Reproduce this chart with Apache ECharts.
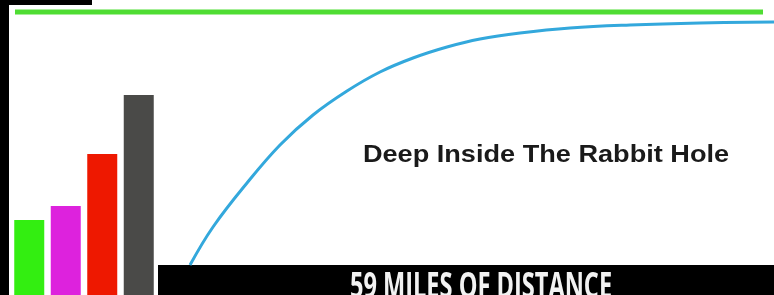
<!DOCTYPE html>
<html>
<head>
<meta charset="utf-8">
<script src="https://cdn.jsdelivr.net/npm/echarts@6/dist/echarts.min.js"></script>
<style>
  html, body { margin: 0; padding: 0; background: #fff; }
  #chart { width: 774px; height: 295px; }
</style>
</head>
<body>
<div id="chart"></div>
<script>
// bar chart on the left
const barNames = ['a', 'b', 'c', 'd']
const barValues = [75, 89, 141, 200]
const barColors = ['#33ee11', '#dd22dd', '#ee1800', '#4a4a48']

// rising curve (x = distance, y = depth)
const curveX = [0, 23, 57, 90, 123, 157, 190, 223, 257, 290, 330, 380, 440, 510, 584]
const curveY = [0, 38, 82, 120, 150, 174, 193, 207, 218, 226, 232, 237, 240, 242, 243]

const titleText = 'Deep Inside The Rabbit Hole'
const axisText = '59 MILES OF DISTANCE'

const chart = echarts.init(document.getElementById('chart'))

const option = {
  animation: false,
  backgroundColor: '#ffffff',
  grid: [
    { left: 11, width: 146, top: 0, bottom: 0 },
    { left: 190, right: 0, top: 0, bottom: 30 }
  ],
  xAxis: [
    { gridIndex: 0, type: 'category', data: barNames, show: false },
    { gridIndex: 1, type: 'value', min: 0, max: 584, show: false }
  ],
  yAxis: [
    { gridIndex: 0, type: 'value', min: 0, max: 295, show: false },
    { gridIndex: 1, type: 'value', min: 0, max: 265, show: false }
  ],
  series: [
    {
      type: 'bar',
      xAxisIndex: 0,
      yAxisIndex: 0,
      barWidth: 30,
      data: barValues.map((v, i) => ({ value: v, itemStyle: { color: barColors[i] } }))
    },
    {
      type: 'line',
      xAxisIndex: 1,
      yAxisIndex: 1,
      smooth: 0.4,
      symbol: 'none',
      data: curveX.map((x, i) => [x, curveY[i]]),
      lineStyle: { color: '#33a8dc', width: 3 }
    }
  ],
  graphic: [
    // frame pieces
    { type: 'rect', left: 0, top: 0, shape: { width: 9, height: 295 }, style: { fill: '#000' } },
    { type: 'rect', left: 0, top: 0, shape: { width: 92, height: 5 }, style: { fill: '#000' } },
    { type: 'line', shape: { x1: 15, y1: 12, x2: 763, y2: 12 }, style: { stroke: '#4fdd33', lineWidth: 5 } },
    { type: 'rect', left: 158, top: 265, shape: { width: 616, height: 30 }, style: { fill: '#000' } },
    {
      type: 'text', x: 546, y: 155, scaleX: 1.13,
      style: {
        text: titleText, fill: '#1a1a1a', font: 'bold 24px "Liberation Sans"',
        textAlign: 'center', textVerticalAlign: 'middle'
      }
    },
    {
      type: 'text', x: 481, y: 270, scaleX: 0.655,
      style: {
        text: axisText, fill: '#f2f2f2', font: 'bold 36px "Open Sans"',
        textAlign: 'center', textVerticalAlign: 'top'
      }
    }
  ]
}

chart.setOption(option)
</script>
</body>
</html>
